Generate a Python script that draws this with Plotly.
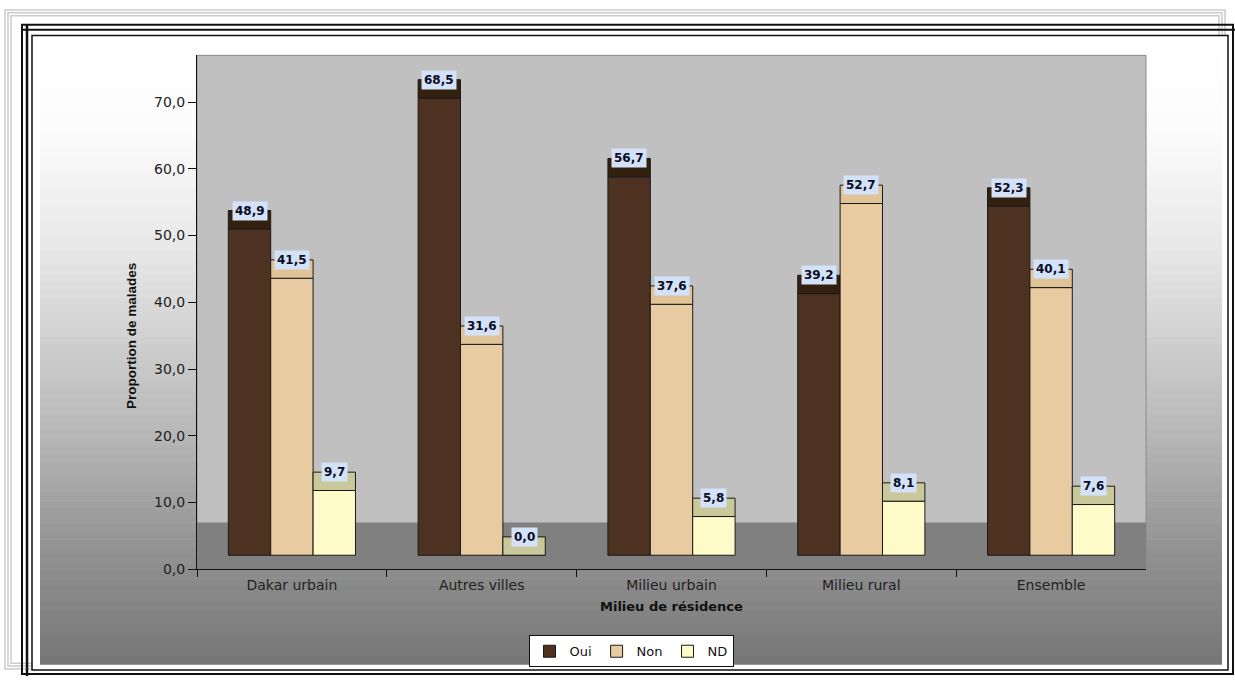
import numpy as np
import plotly.graph_objects as go

# ---------------- data ----------------
categories = ["Dakar urbain", "Autres villes", "Milieu urbain", "Milieu rural", "Ensemble"]
series_names = ["Oui", "Non", "ND"]
oui = [48.9, 68.5, 56.7, 39.2, 52.3]
non = [41.5, 31.6, 37.6, 52.7, 40.1]
nd = [9.7, 0.0, 5.8, 8.1, 7.6]
y_tick_values = [0, 10, 20, 30, 40, 50, 60, 70]
x_title = "Milieu de résidence"
y_title = "Proportion de malades"

# ---------------- style ----------------
W, H = 1235, 684
BASE = 2.1      # visual lift of the bars (3D floor depth)
CAP = 2.75      # height of the 3D top face
FLOOR = 7.0     # height of the dark floor band
BARGAP = 0.33
body_colors = ["#4d3121", "#e9cba1", "#fffbc8"]
cap_colors = ["#33200f", "#e0c396", "#c8c89b"]
FONT = "DejaVu Sans"


def px(x):
    return x / W


def py(y):
    return 1 - y / H


fig = go.Figure()
values = [oui, non, nd]
for k, (name, vals) in enumerate(zip(series_names, values)):
    fig.add_trace(go.Bar(
        x=categories, y=vals, base=[BASE] * len(vals), name=name,
        offsetgroup=name, legendgroup=name,
        marker=dict(color=body_colors[k], line=dict(color="#1a1a1a", width=1)),
    ))
    fig.add_trace(go.Bar(
        x=categories, y=[CAP] * len(vals), base=[BASE + v for v in vals], name=name,
        offsetgroup=name, legendgroup=name, showlegend=False,
        marker=dict(color=cap_colors[k], line=dict(color="#1a1a1a", width=1)),
    ))

# value labels
w = (1 - BARGAP) / len(series_names)
annotations = []
for k, vals in enumerate(values):
    for i, v in enumerate(vals):
        annotations.append(dict(
            x=i + (k - 1) * w, y=BASE + v + CAP, xref="x", yref="y",
            text="<b>" + f"{v:.1f}".replace(".", ",") + "</b>",
            showarrow=False, yanchor="middle", xanchor="center",
            font=dict(family=FONT, size=12, color="#0b0b1e"),
            bgcolor="#d3e2f8", borderpad=2,
        ))

# axis titles
annotations.append(dict(
    x=px(671.5), y=py(614), xref="paper", yref="paper", text="<b>" + x_title + "</b>",
    showarrow=False, xanchor="center", yanchor="middle",
    font=dict(family=FONT, size=13, color="#111111")))
annotations.append(dict(
    x=px(131), y=py(340), xref="paper", yref="paper", text="<b>" + y_title + "</b>",
    showarrow=False, xanchor="center", yanchor="middle", textangle=-90,
    font=dict(family="Liberation Sans", size=13.5, color="#111111")))

# ---------------- decorative shapes ----------------
shapes = []
for (x0, y0, x1, y1) in [(5, 10, 1225, 677), (8, 13, 1222, 674), (11, 16, 1219, 671)]:
    shapes.append(dict(type="rect", xref="paper", yref="paper", layer="below",
                       x0=px(x0), x1=px(x1), y0=py(y1), y1=py(y0),
                       line=dict(color="#cccccc", width=1.5)))
shapes.append(dict(type="rect", xref="paper", yref="paper", layer="below",
                   x0=px(33), x1=px(1228), y0=py(679), y1=py(36),
                   fillcolor="#ffffff", line=dict(width=0)))
# gradient background of the chart area
stops_y = [40, 130, 250, 350, 450, 550, 672]
stops_g = [255, 252, 232, 206, 180, 148, 118]
n_strips = 80
edges = np.linspace(40, 672, n_strips + 1)
for j in range(n_strips):
    mid = (edges[j] + edges[j + 1]) / 2
    g = int(round(np.interp(mid, stops_y, stops_g)))
    shapes.append(dict(type="rect", xref="paper", yref="paper", layer="below",
                       x0=px(40), x1=px(1222), y0=py(edges[j + 1] + 0.6), y1=py(edges[j]),
                       fillcolor=f"rgb({g},{g},{g})", line=dict(width=0)))
# black frame lines
shapes.append(dict(type="rect", xref="paper", yref="paper", layer="below",
                   x0=px(22), x1=px(1233), y0=py(682), y1=py(25),
                   line=dict(color="#111111", width=2)))
shapes.append(dict(type="rect", xref="paper", yref="paper", layer="below",
                   x0=px(32), x1=px(1228), y0=py(678), y1=py(36),
                   line=dict(color="#111111", width=1.5)))
shapes.append(dict(type="line", xref="paper", yref="paper", layer="below",
                   x0=px(27), x1=px(27), y0=py(684), y1=py(25),
                   line=dict(color="#111111", width=2.5)))
shapes.append(dict(type="line", xref="paper", yref="paper", layer="below",
                   x0=px(22), x1=px(1235), y0=py(30), y1=py(30),
                   line=dict(color="#111111", width=2)))
# wall and floor
shapes.append(dict(type="rect", xref="x domain", yref="y domain", layer="below",
                   x0=0, x1=1, y0=0, y1=1, fillcolor="#c0c0c0",
                   line=dict(color="#8a8a8a", width=1)))
shapes.append(dict(type="rect", xref="x domain", yref="y", layer="below",
                   x0=0, x1=1, y0=0, y1=FLOOR, fillcolor="#808080",
                   line=dict(width=0)))

fig.update_layout(
    autosize=True,
    margin=dict(l=0, r=0, t=0, b=0),
    paper_bgcolor="#ffffff", plot_bgcolor="rgba(0,0,0,0)",
    separators=", ",
    barmode="group", bargap=BARGAP, bargroupgap=0,
    font=dict(family=FONT, size=14, color="#222222"),
    showlegend=True,
    legend=dict(orientation="h", x=px(631), y=py(659), xanchor="center", yanchor="middle",
                bgcolor="#ffffff", bordercolor="#111111", borderwidth=1,
                font=dict(family=FONT, size=13, color="#111111"),
                itemwidth=30, traceorder="normal"),
    annotations=annotations,
    shapes=shapes,
    xaxis=dict(domain=[px(197), px(1146)], showgrid=False, zeroline=False,
               showline=True, linecolor="#111111", linewidth=1,
               ticks="outside", tickson="boundaries", ticklen=7, tickcolor="#111111",
               ticklabelstandoff=3,
               tickfont=dict(family=FONT, size=14, color="#222222")),
    yaxis=dict(domain=[py(576), py(56)], range=[0, 77], showgrid=False, zeroline=False,
               showline=True, linecolor="#111111", linewidth=1,
               tickvals=y_tick_values, tickformat=".1f",
               ticks="outside", ticklen=8, tickcolor="#111111",
               tickfont=dict(family=FONT, size=14, color="#222222")),
)

page_fix = (
    "var s=document.createElement('style');"
    "s.textContent='html,body{margin:0;padding:0;overflow:hidden;}';"
    "document.head.appendChild(s);"
)
fig.write_html("out.html", config={"displayModeBar": False},
               default_width="100vw", default_height="100vh", post_script=page_fix)
